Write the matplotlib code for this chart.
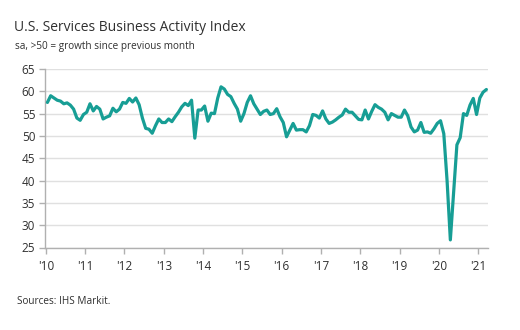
import matplotlib
matplotlib.use("Agg")
import matplotlib.pyplot as plt
import numpy as np

plt.rcParams["font.family"] = ["Open Sans", "DejaVu Sans"]

# Monthly index readings, Jan 2010 .. Mar 2021
values_2010 = [57.5, 59.0, 58.5, 58.0, 57.8, 57.2, 57.4, 56.9, 56.0, 54.0, 53.5, 54.8]
values_2011 = [55.3, 57.2, 55.6, 56.6, 56.0, 53.8, 54.2, 54.5, 56.2, 55.4, 56.0, 57.5]
values_2012 = [57.3, 58.4, 57.6, 58.5, 57.0, 54.0, 51.7, 51.5, 50.6, 52.3, 53.8, 53.0]
values_2013 = [53.0, 53.8, 53.2, 54.3, 55.3, 56.5, 57.3, 56.8, 58.0, 49.5, 55.8, 55.8]
values_2014 = [56.7, 53.3, 55.1, 55.0, 58.5, 61.0, 60.5, 59.3, 58.8, 57.3, 56.0, 53.3]
values_2015 = [55.0, 57.5, 59.0, 57.2, 56.0, 54.8, 55.5, 55.8, 54.8, 55.0, 56.1, 54.3]
values_2016 = [53.0, 49.8, 51.3, 52.8, 51.3, 51.4, 51.4, 50.9, 52.3, 54.8, 54.6, 54.0]
values_2017 = [55.6, 53.8, 52.8, 53.1, 53.6, 54.2, 54.7, 56.0, 55.3, 55.3, 54.5, 53.7]
values_2018 = [53.6, 55.8, 53.8, 55.5, 57.0, 56.4, 56.0, 55.3, 53.6, 55.0, 54.6, 54.2]
values_2019 = [54.2, 55.8, 54.5, 52.0, 50.9, 51.3, 53.0, 50.8, 50.9, 50.6, 51.6, 52.8]
values_2020 = [53.4, 50.5, 40.0, 26.7, 37.5, 48.0, 49.6, 55.0, 54.6, 56.9, 58.4, 54.8]
values_2021 = [58.5, 59.8, 60.4]

values = (values_2010 + values_2011 + values_2012 + values_2013 + values_2014
          + values_2015 + values_2016 + values_2017 + values_2018 + values_2019
          + values_2020 + values_2021)

# mid-month positions in fractional years
dates = 2010 + (np.arange(len(values)) + 0.5) / 12

years = list(range(2010, 2022))
year_labels = ["'" + str(y)[2:] for y in years]

line_color = "#179e95"
text_color = "#303030"
grid_color = "#e0e0e0"
axis_color = "#b0b0b0"

fig = plt.figure(figsize=(5.2, 3.3), dpi=100)
ax = fig.add_axes([0.0865, 0.25, 0.852, 0.541])

ax.plot(dates, values, color=line_color, linewidth=2.3, solid_joinstyle="round",
        solid_capstyle="round", zorder=3)

ax.set_xlim(2009.98, 2021.25)
ax.set_ylim(25, 65)
ax.set_xticks(years)
ax.set_xticklabels(year_labels)
ax.set_yticks(range(25, 66, 5))

ax.grid(axis="y", color=grid_color, linewidth=1.0)
ax.set_axisbelow(True)

for side in ["top", "right"]:
    ax.spines[side].set_visible(False)
for side in ["left", "bottom"]:
    ax.spines[side].set_color(axis_color)
    ax.spines[side].set_linewidth(1.0)

ax.tick_params(axis="both", colors=axis_color, labelcolor=text_color,
               labelsize=8.5, length=4, width=1.0)
ax.tick_params(axis="x", pad=5)
ax.tick_params(axis="y", pad=3)

fig.text(0.027, 0.905, "U.S. Services Business Activity Index", fontsize=10,
         color=text_color, va="baseline")
fig.text(0.029, 0.852, "sa, >50 = growth since previous month", fontsize=7.2,
         color=text_color, va="baseline")
fig.text(0.033, 0.079, "Sources: IHS Markit.", fontsize=7.2, color=text_color,
         va="baseline")

plt.savefig("out.png", dpi=100)
